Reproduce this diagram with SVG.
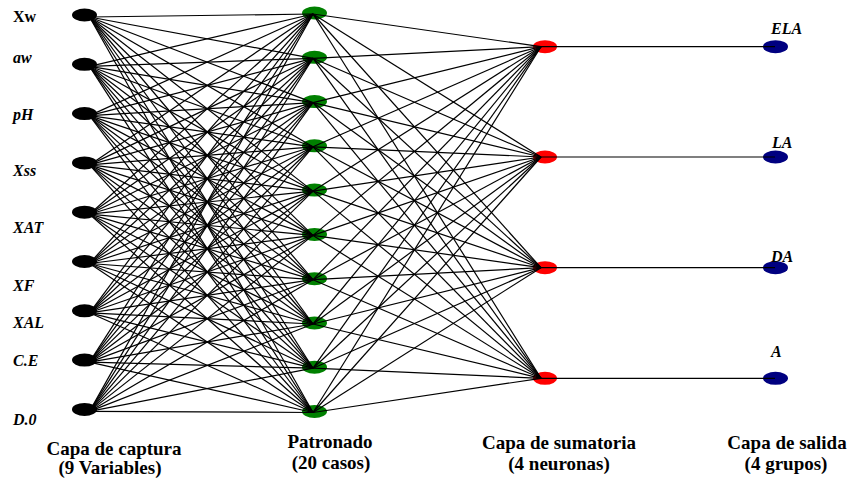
<svg xmlns="http://www.w3.org/2000/svg" width="852" height="485" viewBox="0 0 852 485">
<style>
.c{stroke:#000;stroke-width:1.2;fill:none}
.in{fill:#000}
.hid{fill:#008000}
.sum{fill:#ff0000}
.out{fill:#000080}
.lbl{font-family:"Liberation Serif","Times New Roman",serif;font-weight:bold;font-style:italic;font-size:16px;fill:#000}
.up{font-style:normal}
.ttl{font-family:"Liberation Serif","Times New Roman",serif;font-weight:bold;font-size:19px;fill:#000;text-anchor:middle}
</style>
<rect width="852" height="485" fill="#fff"/>
<g id="input-layer">
<g id="in-Xw"><ellipse class="in" cx="84.5" cy="15" rx="12.5" ry="6.5"/><text class="lbl up" x="13" y="22">Xw</text></g>
<g id="in-aw"><ellipse class="in" cx="84.5" cy="64.3" rx="12.5" ry="6.5"/><text class="lbl" x="13" y="63">aw</text></g>
<g id="in-pH"><ellipse class="in" cx="84.5" cy="113.6" rx="12.5" ry="6.5"/><text class="lbl" x="13" y="120">pH</text></g>
<g id="in-Xss"><ellipse class="in" cx="84.5" cy="162.9" rx="12.5" ry="6.5"/><text class="lbl" x="13" y="176">Xss</text></g>
<g id="in-XAT"><ellipse class="in" cx="84.5" cy="212.2" rx="12.5" ry="6.5"/><text class="lbl" x="13" y="233">XAT</text></g>
<g id="in-XF"><ellipse class="in" cx="84.5" cy="261.5" rx="12.5" ry="6.5"/><text class="lbl" x="13" y="291">XF</text></g>
<g id="in-XAL"><ellipse class="in" cx="84.5" cy="310.8" rx="12.5" ry="6.5"/><text class="lbl" x="13" y="328">XAL</text></g>
<g id="in-CE"><ellipse class="in" cx="84.5" cy="360.1" rx="12.5" ry="6.5"/><text class="lbl" x="13" y="366">C.E</text></g>
<g id="in-D0"><ellipse class="in" cx="84.5" cy="409.4" rx="12.5" ry="6.5"/><text class="lbl" x="13" y="425">D.0</text></g>
</g>
<g id="pattern-layer">
<g id="h1"><ellipse class="hid" cx="314.5" cy="13" rx="12.5" ry="6.5"/></g>
<g id="h2"><ellipse class="hid" cx="314.5" cy="57.3" rx="12.5" ry="6.5"/></g>
<g id="h3"><ellipse class="hid" cx="314.5" cy="101.6" rx="12.5" ry="6.5"/></g>
<g id="h4"><ellipse class="hid" cx="314.5" cy="145.8" rx="12.5" ry="6.5"/></g>
<g id="h5"><ellipse class="hid" cx="314.5" cy="190.1" rx="12.5" ry="6.5"/></g>
<g id="h6"><ellipse class="hid" cx="314.5" cy="234.4" rx="12.5" ry="6.5"/></g>
<g id="h7"><ellipse class="hid" cx="314.5" cy="278.7" rx="12.5" ry="6.5"/></g>
<g id="h8"><ellipse class="hid" cx="314.5" cy="323" rx="12.5" ry="6.5"/></g>
<g id="h9"><ellipse class="hid" cx="314.5" cy="367.2" rx="12.5" ry="6.5"/></g>
<g id="h10"><ellipse class="hid" cx="314.5" cy="411.5" rx="12.5" ry="6.5"/></g>
</g>
<g id="sum-layer">
<g id="s1"><ellipse class="sum" cx="545" cy="46.7" rx="12" ry="6.5"/></g>
<g id="s2"><ellipse class="sum" cx="545" cy="157" rx="12" ry="6.5"/></g>
<g id="s3"><ellipse class="sum" cx="545" cy="267.7" rx="12" ry="6.5"/></g>
<g id="s4"><ellipse class="sum" cx="545" cy="378.3" rx="12" ry="6.5"/></g>
</g>
<g id="output-layer">
<g id="out-ELA"><ellipse class="out" cx="775.5" cy="46.7" rx="12.5" ry="6.5"/><text class="lbl" x="771" y="34">ELA</text></g>
<g id="out-LA"><ellipse class="out" cx="775.5" cy="157" rx="12.5" ry="6.5"/><text class="lbl" x="772" y="148">LA</text></g>
<g id="out-DA"><ellipse class="out" cx="775.5" cy="267.7" rx="12.5" ry="6.5"/><text class="lbl" x="771" y="262">DA</text></g>
<g id="out-A"><ellipse class="out" cx="775.5" cy="378.3" rx="12.5" ry="6.5"/><text class="lbl" x="771" y="357">A</text></g>
</g>
<g id="connectors">
<line class="c" x1="89.5" y1="17" x2="313" y2="14"/><line class="c" x1="89.5" y1="17" x2="313" y2="58.3"/><line class="c" x1="89.5" y1="17" x2="313" y2="102.6"/><line class="c" x1="89.5" y1="17" x2="313" y2="146.8"/><line class="c" x1="89.5" y1="17" x2="313" y2="191.1"/><line class="c" x1="89.5" y1="17" x2="313" y2="235.4"/><line class="c" x1="89.5" y1="17" x2="313" y2="279.7"/><line class="c" x1="89.5" y1="17" x2="313" y2="324"/><line class="c" x1="89.5" y1="17" x2="313" y2="368.2"/><line class="c" x1="89.5" y1="17" x2="313" y2="412.5"/>
<line class="c" x1="89.5" y1="66.3" x2="313" y2="14"/><line class="c" x1="89.5" y1="66.3" x2="313" y2="58.3"/><line class="c" x1="89.5" y1="66.3" x2="313" y2="102.6"/><line class="c" x1="89.5" y1="66.3" x2="313" y2="146.8"/><line class="c" x1="89.5" y1="66.3" x2="313" y2="191.1"/><line class="c" x1="89.5" y1="66.3" x2="313" y2="235.4"/><line class="c" x1="89.5" y1="66.3" x2="313" y2="279.7"/><line class="c" x1="89.5" y1="66.3" x2="313" y2="324"/><line class="c" x1="89.5" y1="66.3" x2="313" y2="368.2"/><line class="c" x1="89.5" y1="66.3" x2="313" y2="412.5"/>
<line class="c" x1="89.5" y1="115.6" x2="313" y2="14"/><line class="c" x1="89.5" y1="115.6" x2="313" y2="58.3"/><line class="c" x1="89.5" y1="115.6" x2="313" y2="102.6"/><line class="c" x1="89.5" y1="115.6" x2="313" y2="146.8"/><line class="c" x1="89.5" y1="115.6" x2="313" y2="191.1"/><line class="c" x1="89.5" y1="115.6" x2="313" y2="235.4"/><line class="c" x1="89.5" y1="115.6" x2="313" y2="279.7"/><line class="c" x1="89.5" y1="115.6" x2="313" y2="324"/><line class="c" x1="89.5" y1="115.6" x2="313" y2="368.2"/><line class="c" x1="89.5" y1="115.6" x2="313" y2="412.5"/>
<line class="c" x1="89.5" y1="164.9" x2="313" y2="14"/><line class="c" x1="89.5" y1="164.9" x2="313" y2="58.3"/><line class="c" x1="89.5" y1="164.9" x2="313" y2="102.6"/><line class="c" x1="89.5" y1="164.9" x2="313" y2="146.8"/><line class="c" x1="89.5" y1="164.9" x2="313" y2="191.1"/><line class="c" x1="89.5" y1="164.9" x2="313" y2="235.4"/><line class="c" x1="89.5" y1="164.9" x2="313" y2="279.7"/><line class="c" x1="89.5" y1="164.9" x2="313" y2="324"/><line class="c" x1="89.5" y1="164.9" x2="313" y2="368.2"/><line class="c" x1="89.5" y1="164.9" x2="313" y2="412.5"/>
<line class="c" x1="89.5" y1="214.2" x2="313" y2="14"/><line class="c" x1="89.5" y1="214.2" x2="313" y2="58.3"/><line class="c" x1="89.5" y1="214.2" x2="313" y2="102.6"/><line class="c" x1="89.5" y1="214.2" x2="313" y2="146.8"/><line class="c" x1="89.5" y1="214.2" x2="313" y2="191.1"/><line class="c" x1="89.5" y1="214.2" x2="313" y2="235.4"/><line class="c" x1="89.5" y1="214.2" x2="313" y2="279.7"/><line class="c" x1="89.5" y1="214.2" x2="313" y2="324"/><line class="c" x1="89.5" y1="214.2" x2="313" y2="368.2"/><line class="c" x1="89.5" y1="214.2" x2="313" y2="412.5"/>
<line class="c" x1="89.5" y1="263.5" x2="313" y2="14"/><line class="c" x1="89.5" y1="263.5" x2="313" y2="58.3"/><line class="c" x1="89.5" y1="263.5" x2="313" y2="102.6"/><line class="c" x1="89.5" y1="263.5" x2="313" y2="146.8"/><line class="c" x1="89.5" y1="263.5" x2="313" y2="191.1"/><line class="c" x1="89.5" y1="263.5" x2="313" y2="235.4"/><line class="c" x1="89.5" y1="263.5" x2="313" y2="279.7"/><line class="c" x1="89.5" y1="263.5" x2="313" y2="324"/><line class="c" x1="89.5" y1="263.5" x2="313" y2="368.2"/><line class="c" x1="89.5" y1="263.5" x2="313" y2="412.5"/>
<line class="c" x1="89.5" y1="312.8" x2="313" y2="14"/><line class="c" x1="89.5" y1="312.8" x2="313" y2="58.3"/><line class="c" x1="89.5" y1="312.8" x2="313" y2="102.6"/><line class="c" x1="89.5" y1="312.8" x2="313" y2="146.8"/><line class="c" x1="89.5" y1="312.8" x2="313" y2="191.1"/><line class="c" x1="89.5" y1="312.8" x2="313" y2="235.4"/><line class="c" x1="89.5" y1="312.8" x2="313" y2="279.7"/><line class="c" x1="89.5" y1="312.8" x2="313" y2="324"/><line class="c" x1="89.5" y1="312.8" x2="313" y2="368.2"/><line class="c" x1="89.5" y1="312.8" x2="313" y2="412.5"/>
<line class="c" x1="89.5" y1="362.1" x2="313" y2="14"/><line class="c" x1="89.5" y1="362.1" x2="313" y2="58.3"/><line class="c" x1="89.5" y1="362.1" x2="313" y2="102.6"/><line class="c" x1="89.5" y1="362.1" x2="313" y2="146.8"/><line class="c" x1="89.5" y1="362.1" x2="313" y2="191.1"/><line class="c" x1="89.5" y1="362.1" x2="313" y2="235.4"/><line class="c" x1="89.5" y1="362.1" x2="313" y2="279.7"/><line class="c" x1="89.5" y1="362.1" x2="313" y2="324"/><line class="c" x1="89.5" y1="362.1" x2="313" y2="368.2"/><line class="c" x1="89.5" y1="362.1" x2="313" y2="412.5"/>
<line class="c" x1="89.5" y1="411.4" x2="313" y2="14"/><line class="c" x1="89.5" y1="411.4" x2="313" y2="58.3"/><line class="c" x1="89.5" y1="411.4" x2="313" y2="102.6"/><line class="c" x1="89.5" y1="411.4" x2="313" y2="146.8"/><line class="c" x1="89.5" y1="411.4" x2="313" y2="191.1"/><line class="c" x1="89.5" y1="411.4" x2="313" y2="235.4"/><line class="c" x1="89.5" y1="411.4" x2="313" y2="279.7"/><line class="c" x1="89.5" y1="411.4" x2="313" y2="324"/><line class="c" x1="89.5" y1="411.4" x2="313" y2="368.2"/><line class="c" x1="89.5" y1="411.4" x2="313" y2="412.5"/>
<line class="c" x1="313" y1="14" x2="541" y2="46.7"/><line class="c" x1="313" y1="14" x2="541" y2="157"/><line class="c" x1="313" y1="14" x2="541" y2="267.7"/><line class="c" x1="313" y1="14" x2="541" y2="378.3"/>
<line class="c" x1="313" y1="58.3" x2="541" y2="46.7"/><line class="c" x1="313" y1="58.3" x2="541" y2="157"/><line class="c" x1="313" y1="58.3" x2="541" y2="267.7"/><line class="c" x1="313" y1="58.3" x2="541" y2="378.3"/>
<line class="c" x1="313" y1="102.6" x2="541" y2="46.7"/><line class="c" x1="313" y1="102.6" x2="541" y2="157"/><line class="c" x1="313" y1="102.6" x2="541" y2="267.7"/><line class="c" x1="313" y1="102.6" x2="541" y2="378.3"/>
<line class="c" x1="313" y1="146.8" x2="541" y2="46.7"/><line class="c" x1="313" y1="146.8" x2="541" y2="157"/><line class="c" x1="313" y1="146.8" x2="541" y2="267.7"/><line class="c" x1="313" y1="146.8" x2="541" y2="378.3"/>
<line class="c" x1="313" y1="191.1" x2="541" y2="46.7"/><line class="c" x1="313" y1="191.1" x2="541" y2="157"/><line class="c" x1="313" y1="191.1" x2="541" y2="267.7"/><line class="c" x1="313" y1="191.1" x2="541" y2="378.3"/>
<line class="c" x1="313" y1="235.4" x2="541" y2="46.7"/><line class="c" x1="313" y1="235.4" x2="541" y2="157"/><line class="c" x1="313" y1="235.4" x2="541" y2="267.7"/><line class="c" x1="313" y1="235.4" x2="541" y2="378.3"/>
<line class="c" x1="313" y1="279.7" x2="541" y2="46.7"/><line class="c" x1="313" y1="279.7" x2="541" y2="157"/><line class="c" x1="313" y1="279.7" x2="541" y2="267.7"/><line class="c" x1="313" y1="279.7" x2="541" y2="378.3"/>
<line class="c" x1="313" y1="324" x2="541" y2="46.7"/><line class="c" x1="313" y1="324" x2="541" y2="157"/><line class="c" x1="313" y1="324" x2="541" y2="267.7"/><line class="c" x1="313" y1="324" x2="541" y2="378.3"/>
<line class="c" x1="313" y1="368.2" x2="541" y2="46.7"/><line class="c" x1="313" y1="368.2" x2="541" y2="157"/><line class="c" x1="313" y1="368.2" x2="541" y2="267.7"/><line class="c" x1="313" y1="368.2" x2="541" y2="378.3"/>
<line class="c" x1="313" y1="412.5" x2="541" y2="46.7"/><line class="c" x1="313" y1="412.5" x2="541" y2="157"/><line class="c" x1="313" y1="412.5" x2="541" y2="267.7"/><line class="c" x1="313" y1="412.5" x2="541" y2="378.3"/>
<line class="c" x1="541" y1="46.7" x2="775" y2="46.7"/><line class="c" x1="541" y1="157" x2="775" y2="157"/><line class="c" x1="541" y1="267.7" x2="775" y2="267.7"/><line class="c" x1="541" y1="378.3" x2="775" y2="378.3"/>
</g>
<g id="layer-titles">
<text class="ttl" x="114" y="455">Capa de captura</text>
<text class="ttl" x="110" y="474">(9 Variables)</text>
<text class="ttl" x="330" y="448">Patronado</text>
<text class="ttl" x="331" y="469">(20 casos)</text>
<text class="ttl" x="559" y="449">Capa de sumatoria</text>
<text class="ttl" x="559" y="470">(4 neuronas)</text>
<text class="ttl" x="787" y="449">Capa de salida</text>
<text class="ttl" x="786" y="470">(4 grupos)</text>
</g>
</svg>
